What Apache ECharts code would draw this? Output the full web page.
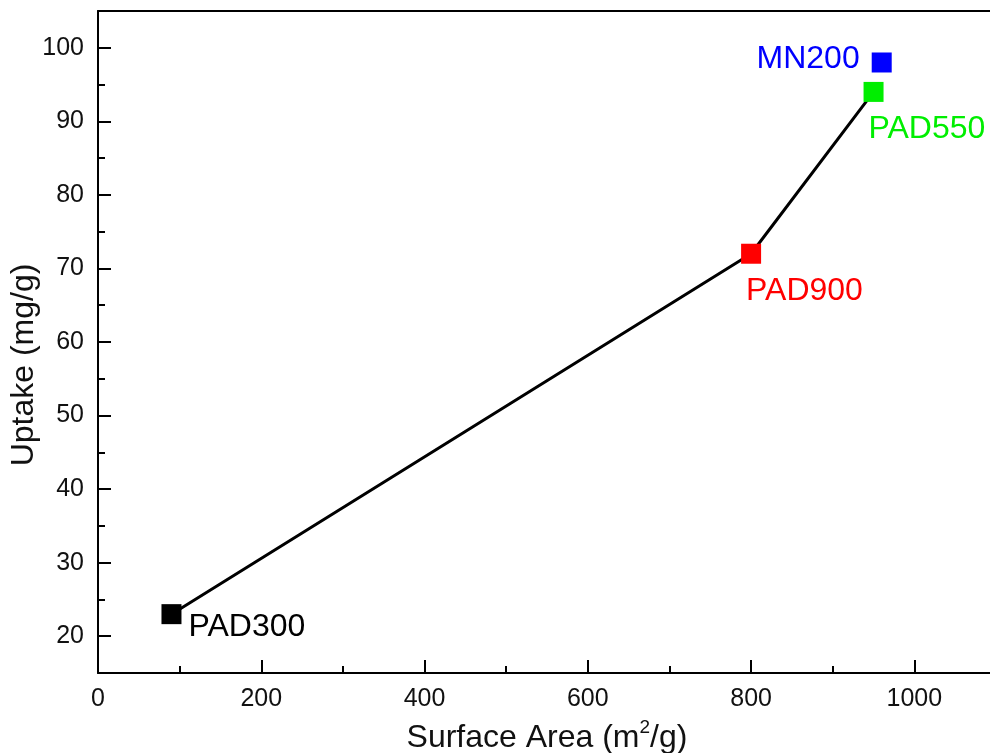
<!DOCTYPE html>
<html>
<head>
<meta charset="utf-8">
<script src="https://cdn.jsdelivr.net/npm/echarts@6/dist/echarts.min.js"></script>
<style>
  html, body { margin: 0; padding: 0; background: #fff; }
  #chart { width: 990px; height: 753px; }
</style>
</head>
<body>
<div id="chart"></div>
<script>
// Sorbent samples: surface area (m2/g) vs uptake (mg/g)
const sampleNames   = ['PAD300', 'PAD900', 'PAD550', 'MN200'];
const surfaceArea   = [90, 800, 950, 960];
const uptake        = [23, 72, 94, 98];
const sampleColors  = ['#000000', '#ff0000', '#00ee00', '#0000ff'];
// Samples joined by the trend line (in order)
const trendSamples  = ['PAD300', 'PAD900', 'PAD550'];

// Axis ticks
const xMajorTicks = [0, 200, 400, 600, 800, 1000];
const xMinorTicks = [100, 300, 500, 700, 900];
const yMajorTicks = [20, 30, 40, 50, 60, 70, 80, 90, 100];
const yMinorTicks = [25, 35, 45, 55, 65, 75, 85, 95];

const FONT = '"Liberation Sans", Arial, sans-serif';

// Label placement around each marker (relative to the marker box)
const labelPlacement = {
  PAD300: { position: [27, 23], align: 'left' },
  PAD900: { position: [5, 47], align: 'left' },
  PAD550: { position: [5, 47], align: 'left' },
  MN200:  { position: [-12, 7], align: 'right' }
};

const chart = echarts.init(document.getElementById('chart'), null, { renderer: 'canvas' });

const trendData = trendSamples.map(n => {
  const i = sampleNames.indexOf(n);
  return [surfaceArea[i], uptake[i]];
});

const scatterSeries = sampleNames.map((name, i) => ({
  type: 'scatter',
  name: name,
  xAxisIndex: 0,
  yAxisIndex: 0,
  symbol: 'rect',
  symbolSize: 20,
  z: 5,
  itemStyle: { color: sampleColors[i], opacity: 1 },
  label: {
    show: true,
    formatter: name,
    position: labelPlacement[name].position,
    align: labelPlacement[name].align,
    verticalAlign: 'middle',
    color: sampleColors[i],
    opacity: 1,
    fontFamily: FONT,
    fontSize: 32
  },
  data: [[surfaceArea[i], uptake[i]]]
}));

const axisLineStyle = { color: '#000', width: 2 };
const plainNumber = v => String(v);

chart.setOption({
  animation: false,
  backgroundColor: '#fff',
  grid: { left: 98, top: 11, height: 662, width: 898, containLabel: false, outerBoundsMode: 'none' },
  xAxis: [
    {
      type: 'value', position: 'bottom', min: 0, max: 1100,
      axisLine: { show: true, onZero: false, lineStyle: axisLineStyle },
      axisTick: { show: true, inside: true, length: 13, lineStyle: axisLineStyle, customValues: xMajorTicks },
      axisLabel: { show: true, margin: 14, color: '#111', fontFamily: FONT, fontSize: 25, customValues: xMajorTicks, formatter: plainNumber },
      splitLine: { show: false },
      name: 'Surface Area (m{sup|2}/g)',
      nameLocation: 'middle',
      nameGap: 45,
      nameTextStyle: {
        color: '#111', fontFamily: FONT, fontSize: 32,
        rich: { sup: { fontSize: 19, fontFamily: FONT, color: '#111', padding: [0, 0, 21, 0] } }
      }
    },
    {
      type: 'value', position: 'bottom', min: 0, max: 1100,
      axisLine: { show: false },
      axisTick: { show: true, inside: true, length: 7, lineStyle: axisLineStyle, customValues: xMinorTicks },
      axisLabel: { show: false },
      splitLine: { show: false }
    },
    {
      type: 'value', position: 'top', min: 0, max: 1100,
      axisLine: { show: true, onZero: false, lineStyle: axisLineStyle },
      axisTick: { show: false },
      axisLabel: { show: false },
      splitLine: { show: false }
    }
  ],
  yAxis: [
    {
      type: 'value', position: 'left', min: 15, max: 105,
      axisLine: { show: true, onZero: false, lineStyle: axisLineStyle },
      axisTick: { show: true, inside: true, length: 13, lineStyle: axisLineStyle, customValues: yMajorTicks },
      axisLabel: { show: true, margin: 14, color: '#111', fontFamily: FONT, fontSize: 25, customValues: yMajorTicks, formatter: plainNumber },
      splitLine: { show: false }
    },
    {
      type: 'value', position: 'left', offset: 0, min: 15, max: 105,
      axisLine: { show: false },
      axisTick: { show: true, inside: true, length: 7, lineStyle: axisLineStyle, customValues: yMinorTicks },
      axisLabel: { show: false },
      splitLine: { show: false }
    }
  ],
  graphic: [
    {
      type: 'text',
      x: 24, y: 365,
      rotation: Math.PI / 2,
      style: {
        text: 'Uptake (mg/g)',
        fill: '#111',
        font: '32px ' + FONT,
        align: 'center',
        verticalAlign: 'middle'
      }
    }
  ],
  series: [
    {
      type: 'line',
      xAxisIndex: 0,
      yAxisIndex: 0,
      showSymbol: false,
      symbol: 'none',
      z: 2,
      lineStyle: { color: '#000', width: 3 },
      data: trendData
    }
  ].concat(scatterSeries)
});
</script>
</body>
</html>
